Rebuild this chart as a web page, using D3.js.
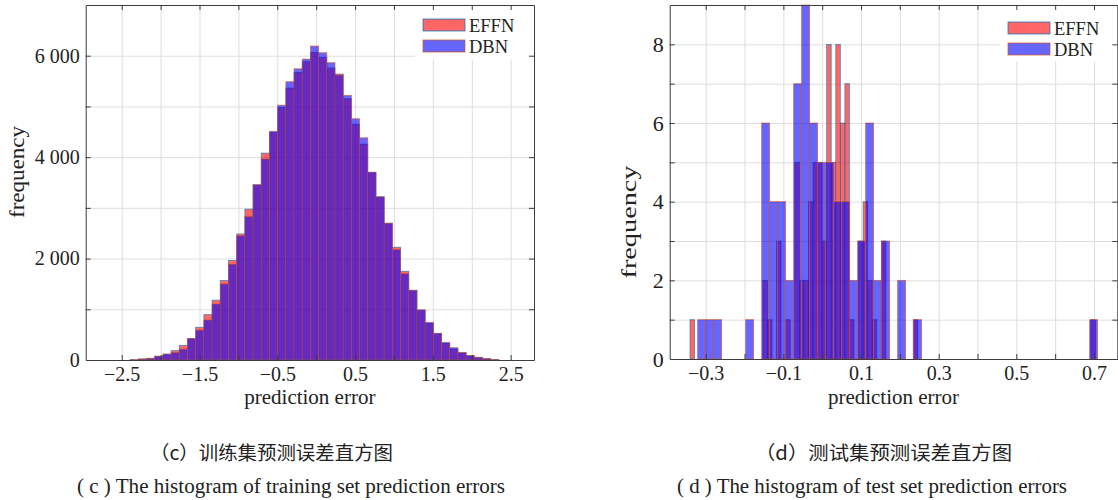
<!DOCTYPE html>
<meta charset="utf-8">
<script src="https://cdn.jsdelivr.net/npm/d3@7"></script>
<style> body{margin: 0; background: #fff;} </style>
<svg id="fig" width="1118" height="500"></svg>
<script>
// (c) training set: both models share the same bins
const trainStart = -2.392
const trainBinWidth = 0.10536
const trainEFFN = [5, 20, 33, 75, 100, 185, 290, 420, 645, 895,
  1180, 1570, 1965, 2485, 2975, 3455, 4080, 4490, 4980, 5362,
  5671, 5882, 6066, 5967, 5757, 5638, 5151, 4651, 4257, 3697,
  3217, 2697, 2224, 1750, 1375, 987, 724, 526, 329, 217,
  145, 79, 53, 26, 7]
const trainDBN = [5, 20, 33, 75, 120, 150, 215, 425, 590, 790,
  1105, 1500, 1890, 2450, 2830, 3455, 3965, 4510, 5025, 5487,
  5743, 5934, 6191, 6059, 5862, 5618, 5217, 4757, 4382, 3704,
  3217, 2697, 2178, 1704, 1375, 987, 743, 526, 349, 243,
  145, 92, 53, 26, 7]
const trainXLabels = [-2.5, -1.5, -0.5, 0.5, 1.5, 2.5]
const trainXGrid = [-2.5, -2, -1.5, -1, -0.5, 0, 0.5, 1, 1.5, 2, 2.5]
const trainYLabels = [0, 2000, 4000, 6000]
const trainYGrid = [1000, 2000, 3000, 4000, 5000, 6000]

// (d) test set: each model has its own bins
const testEFFNStart = -0.3404
const testEFFNWidth = 0.01173
const testEFFN = [1, 0, 0, 0, 0, 0, 0, 0, 0, 0,
  0, 0, 0, 0, 0, 0, 2, 1, 0, 3,
  0, 1, 0, 5, 2, 2, 4, 5, 5, 3,
  8, 5, 8, 6, 7, 1, 0, 3, 4, 2,
  1, 0, 3, 0, 0, 0, 0, 0, 0, 1,
  0, 0, 0, 0, 0, 0, 0, 0, 0, 0,
  0, 0, 0, 0, 0, 0, 0, 0, 0, 0,
  0, 0, 0, 0, 0, 0, 0, 0, 0, 0,
  0, 0, 0, 0, 0, 0, 0, 0, 1, 0]
const testDBNStart = -0.3207
const testDBNWidth = 0.0206
const testDBN = [1, 1, 1, 0, 0, 0, 1, 0, 6, 4,
  4, 2, 7, 9, 6, 5, 5, 4, 4, 2,
  3, 6, 2, 3, 0, 2, 0, 1, 0, 0,
  0, 0, 0, 0, 0, 0, 0, 0, 0, 0,
  0, 0, 0, 0, 0, 0, 0, 0, 0, 1]
const testXLabels = [-0.3, -0.1, 0.1, 0.3, 0.5, 0.7]
const testXGrid = [-0.3, -0.2, -0.1, 0, 0.1, 0.2, 0.3, 0.4, 0.5, 0.6, 0.7]
const testYLabels = [0, 2, 4, 6, 8]
const testYGrid = [1, 2, 3, 4, 5, 6, 7, 8]

const seriesNames = ["EFFN", "DBN"]

const serif = "'Liberation Serif', 'Times New Roman', serif"
const cjk = "'Noto Sans CJK SC', sans-serif"
const svg = d3.select("#fig")

function toBins(start, width, counts) {
  return counts.map((c, i) => ({x0: start + i * width, x1: start + (i + 1) * width, c: c}))
    .filter(d => d.c > 0)
}

const spaced = d3.formatLocale({decimal: ".", thousands: " ", grouping: [3], currency: ["", ""]}).format(",")

function drawPanel(p) {
  const x = d3.scaleLinear().domain(p.xDomain).range([p.left, p.right])
  const y = d3.scaleLinear().domain(p.yDomain).range([p.bottom, p.top])
  const iw = p.right - p.left, ih = p.bottom - p.top
  const g = svg.append("g")

  // grid
  g.append("g").attr("transform", `translate(0,${p.bottom})`)
    .call(d3.axisBottom(x).tickValues(p.xGrid).tickSize(-ih).tickFormat(""))
    .call(a => a.select(".domain").remove())
    .call(a => a.selectAll("line").attr("stroke", "#dedede"))
  g.append("g").attr("transform", `translate(${p.left},0)`)
    .call(d3.axisLeft(y).tickValues(p.yGrid).tickSize(-iw).tickFormat(""))
    .call(a => a.select(".domain").remove())
    .call(a => a.selectAll("line").attr("stroke", "#dedede"))

  // bars, EFFN first, DBN drawn over it
  const layers = [
    {bins: toBins(p.eStart, p.eWidth, p.eCounts), fill: "#ff0000", edge: "#0072bd"},
    {bins: toBins(p.dStart, p.dWidth, p.dCounts), fill: "#0000ff", edge: "#d95319"}
  ]
  layers.forEach(l => {
    g.append("g").selectAll("rect")
      .data(l.bins)
      .join("rect")
      .attr("x", d => x(d.x0))
      .attr("width", d => x(d.x1) - x(d.x0))
      .attr("y", d => y(d.c))
      .attr("height", d => y(0) - y(d.c))
      .attr("fill", l.fill)
      .attr("fill-opacity", 0.6)
      .attr("stroke", l.edge)
      .attr("stroke-opacity", 0.7)
      .attr("stroke-width", 0.8)
  })

  // legend
  const lg = g.append("g")
  lg.append("rect").attr("x", p.legend.x).attr("y", p.top + 0.5)
    .attr("width", p.right - p.legend.x).attr("height", p.legend.h).attr("fill", "#fff")
  layers.forEach((l, i) => {
    const sy = p.legend.sy + i * 21
    lg.append("rect").attr("x", p.legend.x + 8).attr("y", sy)
      .attr("width", 42).attr("height", 12)
      .attr("fill", l.fill).attr("fill-opacity", 0.6)
      .attr("stroke", l.edge).attr("stroke-opacity", 0.7)
    lg.append("text").attr("x", p.legend.x + 54).attr("y", sy + 12.5)
      .attr("font-family", serif).attr("font-size", 18.5).attr("fill", "#222")
      .text(seriesNames[i])
  })

  // frame with inward ticks on all sides
  const frame = "#3c3c3c"
  const sides = [
    [d3.axisBottom(x).tickValues(p.xGrid), `translate(0,${p.bottom})`],
    [d3.axisTop(x).tickValues(p.xGrid), `translate(0,${p.top})`],
    [d3.axisLeft(y).tickValues(p.yGrid), `translate(${p.left},0)`],
    [d3.axisRight(y).tickValues(p.yGrid), `translate(${p.right},0)`]
  ]
  sides.forEach(([ax, tr]) => {
    g.append("g").attr("transform", tr)
      .call(ax.tickSize(-5).tickSizeOuter(0).tickFormat(""))
      .call(a => a.selectAll("path, line").attr("stroke", frame))
  })

  // tick labels
  g.append("g").attr("transform", `translate(0,${p.bottom})`)
    .call(d3.axisBottom(x).tickValues(p.xLabels).tickSize(0).tickPadding(7).tickFormat(d3.format(".1f")))
    .call(a => a.select(".domain").remove())
    .call(a => a.selectAll("text").attr("font-family", serif).attr("font-size", p.tickFont).attr("fill", "#222"))
  g.append("g").attr("transform", `translate(${p.left},0)`)
    .call(d3.axisLeft(y).tickValues(p.yLabels).tickSize(0).tickPadding(6).tickFormat(spaced))
    .call(a => a.select(".domain").remove())
    .call(a => a.selectAll("text").attr("font-family", serif).attr("font-size", p.yTickFont).attr("fill", "#222"))

  // axis titles
  g.append("text").attr("x", (p.left + p.right) / 2).attr("y", 404)
    .attr("text-anchor", "middle").attr("font-family", serif).attr("font-size", 21).attr("fill", "#222")
    .text("prediction error")
  g.append("text").attr("transform", `translate(${p.yTitle.x},${p.yTitle.y}) rotate(-90)`)
    .attr("text-anchor", "middle").attr("font-family", serif).attr("font-size", 21).attr("fill", "#222")
    .attr("textLength", p.yTitle.len).attr("lengthAdjust", "spacingAndGlyphs")
    .text("frequency")

  // captions
  g.append("text").attr("x", p.capCn.x).attr("y", 460)
    .attr("font-family", cjk).attr("font-size", 19).attr("fill", "#222")
    .attr("textLength", p.capCn.len).attr("lengthAdjust", "spacingAndGlyphs")
    .text(p.capCn.text)
  g.append("text").attr("x", p.capEn.x).attr("y", 493)
    .attr("font-family", serif).attr("font-size", 20).attr("fill", "#222")
    .attr("textLength", p.capEn.len).attr("lengthAdjust", "spacingAndGlyphs")
    .text(p.capEn.text)
}

drawPanel({
  left: 85.7, right: 534, top: 5, bottom: 360,
  xDomain: [-2.963, 2.80], yDomain: [0, 7000],
  xGrid: trainXGrid, yGrid: trainYGrid, xLabels: trainXLabels, yLabels: trainYLabels,
  eStart: trainStart, eWidth: trainBinWidth, eCounts: trainEFFN,
  dStart: trainStart, dWidth: trainBinWidth, dCounts: trainDBN,
  legend: {x: 415, h: 54, sy: 19},
  tickFont: 20, yTickFont: 20,
  yTitle: {x: 24, y: 172, len: 92},
  capCn: {x: 150, len: 243, text: "（c）训练集预测误差直方图"},
  capEn: {x: 77, len: 428, text: "( c ) The histogram of training set prediction errors"}
})

drawPanel({
  left: 669.7, right: 1117.3, top: 5, bottom: 359,
  xDomain: [-0.3927, 0.76], yDomain: [0, 9],
  xGrid: testXGrid, yGrid: testYGrid, xLabels: testXLabels, yLabels: testYLabels,
  eStart: testEFFNStart, eWidth: testEFFNWidth, eCounts: testEFFN,
  dStart: testDBNStart, dWidth: testDBNWidth, dCounts: testDBN,
  legend: {x: 1000, h: 56, sy: 22},
  tickFont: 20, yTickFont: 22,
  yTitle: {x: 636, y: 222, len: 113},
  capCn: {x: 755, len: 257, text: "（d）测试集预测误差直方图"},
  capEn: {x: 677, len: 390, text: "( d ) The histogram of test set prediction errors"}
})
</script>
